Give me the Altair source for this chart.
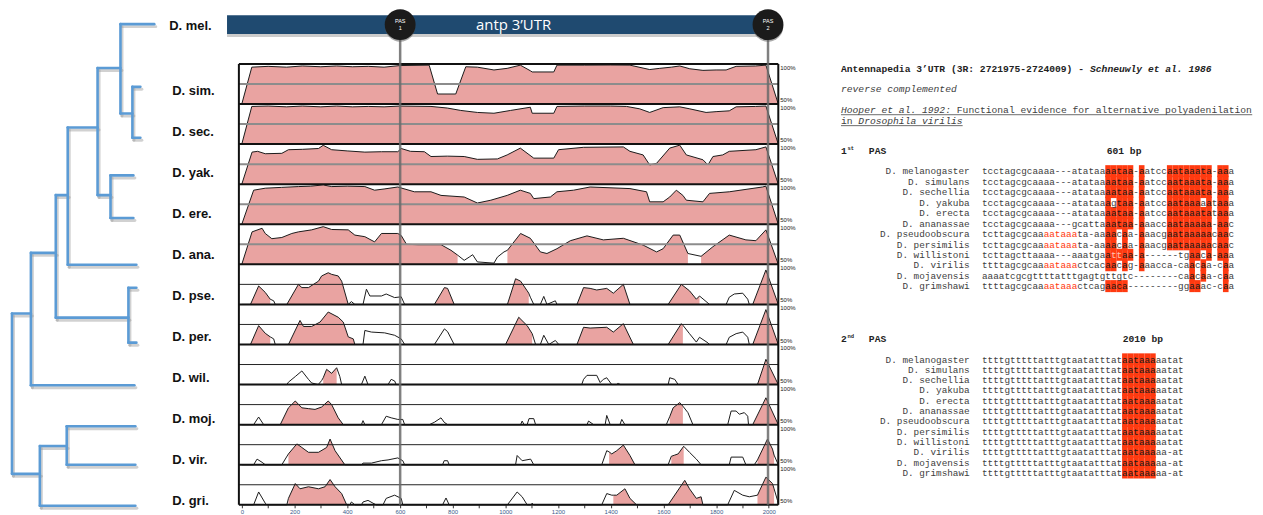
import altair as alt
import pandas as pd

# ====================== DATA ======================
REF_SPECIES = "D. mel."
SPECIES = ["D. sim.", "D. sec.", "D. yak.", "D. ere.", "D. ana.", "D. pse.",
           "D. per.", "D. wil.", "D. moj.", "D. vir.", "D. gri."]

# conservation profiles vs D. melanogaster: (position in bp, % identity); <50% sits on the baseline
CONS_SIM = [(0,50),(38,96),(100,97),(170,96),(230,97.5),(300,96.5),(360,97.5),(420,96.5),(480,97),(540,96),(600,98),(711,98.5),(743,62.5),(812,62.5),(850,96.5),(894,96),(957,92.5),(1007,94.5),(1057,98.5),(1095,91.5),(1102,90),(1184,90),(1196,98.5),(1300,98.5),(1400,98.7),(1473,98.5),(1548,93),(1586,94.5),(1630,96),(1662,97.5),(1700,94),(1750,92),(1800,92.5),(1838,92.5),(1876,97),(1950,97.5),(1989,98.5),(2036,50)]
CONS_SEC = [(0,50),(38,97),(100,97.5),(170,96.5),(230,97.5),(300,96.5),(360,97.5),(420,96.5),(480,97),(540,96.5),(600,97.5),(718,97),(780,95),(831,92),(894,89.5),(957,88.5),(1020,92),(1095,96),(1102,88.5),(1184,88.5),(1196,97),(1300,97.5),(1400,97.5),(1460,97),(1510,94),(1548,89.5),(1599,95.5),(1662,96.5),(1700,94),(1762,89.5),(1800,90.5),(1850,91.5),(1876,96.5),(1950,97),(1989,97.5),(2036,50)]
CONS_YAK = [(0,50),(39,90),(60,91),(89,88),(152,88.5),(177,93),(230,93.5),(291,94.5),(309,98.5),(341,93),(400,91.5),(467,90),(530,90.5),(592,90.5),(605,94.5),(640,91),(693,90.5),(718,84.5),(780,85),(844,84.5),(894,81),(970,81.5),(1007,86.5),(1057,95),(1108,82.5),(1184,82.5),(1202,93),(1297,96),(1448,96.5),(1473,91),(1523,86.5),(1548,74),(1574,76),(1624,95),(1662,98.7),(1687,86.5),(1750,80.5),(1769,74),(1788,84.5),(1825,86.5),(1850,91),(1951,93),(1989,96.5),(2036,50)]
CONS_ERE = [(0,50),(45,92.5),(89,95),(150,96),(215,97),(260,97.5),(309,99),(341,97),(400,97.5),(467,97),(504,92.5),(540,94),(592,96.5),(655,90.5),(718,90.5),(756,86),(844,84),(894,76.5),(945,80),(1007,86),(1057,92.5),(1095,88.5),(1108,82),(1171,84),(1196,90.5),(1259,92.5),(1322,96.5),(1473,94.5),(1536,90.5),(1548,78),(1599,78),(1624,84),(1649,92.5),(1674,86),(1687,80),(1750,78),(1775,88.5),(1850,90.5),(1976,96.5),(1989,97.5),(2036,50)]
CONS_ANA = [(0,50),(39,90.5),(77,95),(89,88.5),(114,82),(152,83.5),(190,88.5),(215,90.5),(265,93),(309,97),(341,93.5),(404,93),(429,86.5),(467,84.5),(504,78),(530,88.5),(592,88.5),(605,86),(625,75),(668,74.5),(718,74.5),(756,74.5),(794,67.5),(819,61.5),(844,55),(863,59),(876,62),(894,53),(957,51.5),(970,59),(995,65.5),(1008,67.5),(1058,88.5),(1095,82.5),(1133,65.5),(1158,63.5),(1196,69.5),(1247,79.5),(1310,85.5),(1372,80.5),(1448,82.5),(1523,74),(1574,65.5),(1599,69.5),(1637,86.5),(1662,86.5),(1693,63.5),(1743,60),(1788,72),(1850,86.5),(1913,80.5),(1951,79.5),(1989,93),(2036,50)]
CONS_PSE = [(0,50),(33,50),(64,73),(89,65),(108,56.5),(121,54.5),(127,50),(171,50),(215,75),(228,71),(253,71),(291,79),(303,85.5),(328,89.5),(341,87.5),(366,85.5),(379,79),(404,50),(416,53.5),(429,50),(460,50),(473,69),(486,60.5),(530,60.5),(548,63),(580,58.5),(605,59.5),(618,50),(731,50),(769,71),(781,70),(806,50),(1008,50),(1039,82),(1058,79),(1083,67),(1089,64),(1095,59),(1108,50),(1133,50),(1146,60),(1158,50),(1190,54.5),(1196,50),(1272,50),(1297,71),(1322,70),(1347,68),(1385,70),(1410,64),(1448,75),(1473,50),(1618,50),(1668,75),(1699,67),(1725,56.5),(1737,60.5),(1775,50),(1838,50),(1850,59),(1869,63),(1901,64),(1920,56.5),(1926,50),(1939,50),(1989,93),(2036,50)]
CONS_PER = [(0,50),(33,50),(64,73.5),(89,64),(108,59.5),(121,57),(127,50),(177,50),(221,80),(234,72.5),(265,72.5),(297,78),(328,90.5),(366,84),(385,78),(404,59.5),(423,57),(429,50),(460,50),(467,67.5),(492,65.5),(542,64.5),(580,61.5),(605,57),(618,50),(731,50),(769,69.5),(781,66),(806,50),(1001,50),(1051,84),(1083,73.5),(1102,63.5),(1115,50),(1133,50),(1146,61.5),(1165,50),(1190,55),(1203,50),(1272,50),(1297,71.5),(1322,70.5),(1385,71.5),(1410,65.5),(1448,76),(1486,50),(1618,50),(1668,76),(1674,74),(1699,63.5),(1725,53),(1737,59),(1769,52),(1775,50),(1838,50),(1850,59),(1876,63.5),(1901,65.5),(1920,59),(1926,50),(1939,50),(1989,93.5),(2036,50)]
CONS_WIL = [(0,50),(171,50),(177,53),(203,60),(228,67),(253,56.5),(265,52),(290,50),(303,55),(309,58.5),(322,69),(341,64),(360,71),(372,60),(379,50),(454,50),(467,60.5),(479,50),(555,50),(567,56.5),(580,54.5),(586,50),(1290,50),(1297,56.5),(1310,61.5),(1347,61.5),(1360,52.5),(1372,56.5),(1385,58.5),(1404,50),(1423,50),(1429,52),(1435,50),(1618,50),(1624,58.5),(1643,56.5),(1656,50),(1957,50),(1989,81.5),(2036,50)]
CONS_MOJ = [(0,50),(45,50),(64,59.5),(83,50),(146,50),(177,71),(203,79.5),(228,71),(253,70),(278,69),(303,72),(328,79.5),(341,75),(366,58.5),(385,50),(454,50),(460,55),(467,50),(530,50),(548,60.5),(567,58.5),(592,56.5),(611,56.5),(618,50),(712,50),(731,53),(756,58.5),(768,53),(781,50),(1058,50),(1064,54.5),(1071,50),(1083,50),(1090,57.5),(1108,57.5),(1115,50),(1310,50),(1316,54.5),(1335,50),(1379,50),(1385,61.5),(1398,50),(1435,50),(1442,56.5),(1454,50),(1611,50),(1624,60),(1637,71),(1662,77.5),(1674,73),(1693,65),(1712,50),(1844,50),(1857,67),(1876,67),(1888,63),(1907,65),(1920,60.5),(1923,50),(1939,50),(1989,83.5),(2036,50)]
CONS_VIR = [(0,50),(45,50),(58,57),(77,53),(89,50),(152,50),(177,63.5),(209,76),(228,71.5),(253,65.5),(291,65.5),(322,71.5),(335,82),(354,67.5),(391,50),(454,50),(460,52),(492,52),(530,55),(555,56),(592,58.5),(611,55),(618,50),(762,50),(768,55),(781,55),(787,50),(1039,50),(1045,61.5),(1064,55),(1096,57),(1108,50),(1366,50),(1385,67.5),(1394,66),(1404,63.5),(1423,67.5),(1448,74.5),(1473,61.5),(1492,50),(1618,50),(1630,60.5),(1643,62),(1656,63.5),(1677,73),(1699,65.5),(1725,57),(1743,50),(1850,50),(1857,59.5),(1901,59.5),(1913,50),(1945,50),(1957,56),(1995,82),(2014,69.5),(2020,62),(2036,50)]
CONS_GRI = [(0,50),(45,50),(64,66),(89,52),(95,50),(171,50),(177,58),(203,76.5),(221,70),(253,72.5),(291,70),(316,72.5),(335,81.5),(354,72.5),(379,64),(398,50),(410,50),(416,53.5),(429,50),(454,50),(460,53.5),(479,55.5),(498,52),(510,50),(536,50),(548,58),(580,62),(605,58),(611,50),(762,50),(775,58.5),(787,50),(1008,50),(1045,66),(1064,60),(1083,50),(1096,50),(1102,52),(1108,50),(1366,50),(1385,64),(1404,62),(1410,62),(1423,62),(1454,70),(1473,58),(1498,50),(1618,50),(1681,80.5),(1699,70),(1725,58),(1743,60),(1750,50),(1844,50),(1869,68),(1901,62),(1926,60),(1957,62),(1989,84.5),(2014,76.5),(2020,70),(2033,55.5),(2036,50)]

# conserved (shaded) regions, bp intervals
CONSERVED = [
    [(0, 2036)], [(0, 2036)], [(0, 2036)], [(0, 2036)],
    [(0, 819), (1008, 1693), (1743, 2036)],
    [(33, 108), (171, 404), (731, 806), (1008, 1089), (1272, 1473), (1618, 1737), (1939, 2036)],
    [(33, 108), (177, 429), (1001, 1102), (1272, 1486), (1618, 1674), (1939, 2036)],
    [(309, 360), (1957, 2036)],
    [(146, 385), (1624, 1674), (1939, 2036)],
    [(177, 391), (1394, 1492), (1630, 1677), (1957, 2020)],
    [(177, 398), (1410, 1498), (1618, 1750), (1957, 2020)],
]
PROFILES = [CONS_SIM, CONS_SEC, CONS_YAK, CONS_ERE, CONS_ANA, CONS_PSE,
            CONS_PER, CONS_WIL, CONS_MOJ, CONS_VIR, CONS_GRI]

PAS_BP = [601, 1997]
PAS_NUM = ["1", "2"]
UTR_SPAN = [-56, 2036]
AXIS_TICKS = [0, 100, 200, 300, 400, 500, 600, 700, 800, 900, 1000, 1100, 1200,
              1300, 1400, 1500, 1600, 1700, 1800, 1900, 2000]

# phylogeny: leaves (top to bottom) with branch depth and row position
TREE_LEAVES = ["D. mel.", "D. sim.", "D. sec.", "D. yak.", "D. ere.", "D. ana.",
               "D. pse.", "D. per.", "D. wil.", "D. moj.", "D. vir.", "D. gri."]
TREE_LEAF_DEPTH = [143, 129, 129, 122, 122, 125, 125, 125, 123, 124, 124, 124]
TREE_LEAF_ROW = [0, 1.53, 2.77, 3.69, 4.73, 5.87, 6.43, 7.77, 8.81, 9.81, 10.75, 11.75]
# internal nodes: (name, depth, row, children)
TREE_NODES = [
    ("simsec", 121, 2.18, ["D. sim.", "D. sec."]),
    ("melsub", 109, 1.07, ["D. mel.", "simsec"]),
    ("yakere", 99, 4.17, ["D. yak.", "D. ere."]),
    ("melsubgrp", 86, 2.52, ["melsub", "yakere"]),
    ("melgrp", 56, 4.17, ["melsubgrp", "D. ana."]),
    ("obscura", 117, 7.16, ["D. pse.", "D. per."]),
    ("sophA", 44, 5.58, ["melgrp", "obscura"]),
    ("sophophora", 19, 7.06, ["sophA", "D. wil."]),
    ("virmoj", 55, 10.29, ["D. moj.", "D. vir."]),
    ("drosophila", 28, 10.97, ["virmoj", "D. gri."]),
    ("root", 0, 9.0, ["sophophora", "drosophila"]),
]

# alignment text
HEADER_TITLE = "Antennapedia 3’UTR (3R: 2721975-2724009) -"
HEADER_CITE = "Schneuwly et al. 1986"
HEADER_NOTE = "reverse complemented"
HEADER_REF_A = "Hooper et al. 1992:"
HEADER_REF_B = "Functional evidence for alternative polyadenilation"
HEADER_REF_C = "in"
HEADER_REF_D = "Drosophila virilis"
PAS1_POS = "601 bp"
PAS2_POS = "2010 bp"

ALN_NAMES = ["D. melanogaster", "D. simulans", "D. sechellia", "D. yakuba", "D. erecta",
             "D. ananassae", "D. pseudoobscura", "D. persimilis", "D. willistoni",
             "D. virilis", "D. mojavensis", "D. grimshawi"]
PAS1_SEQS = [
    "tcctagcgcaaaa---atataaaataa-aatccaataaata-aaa",
    "tcctagcgcaaaa---atataaaataa-aatccaataaata-aaa",
    "tcctagcgcaaaa---atataaaataa-aatccaataaata-aaa",
    "tcctagcgcaaaa---atataaagtaa-aatccaataaaaataaa",
    "tcctagcgcaaaa---atataaaataa-aatccaataaatataaa",
    "tcctagcgcaaaa---gcattaaataa-aaaccaataaaaa-aac",
    "tcttagcgcaaaataaata-aaaacaa-aaacgaataaaaacaac",
    "tcttagcgcaaaataaata-aaaacaa-aaacgaataaaaacaac",
    "tcttagcttaaaa---aaatgaattaa-a------tgaaca-aaa",
    "ttttagcgcaaaataaactcacaacag-aaacca-caacaa-caa",
    "aaaatcgcgttttatttgagtgttgtc--------caacaa-caa",
    "ttttagcgcaaaataaactcagaaca---------ggaaac-caa",
]
_FULL = [22, 23, 24, 25, 26, 28, 33, 34, 35, 36, 37, 38, 39, 40, 42, 43]
PAS1_HL = [
    _FULL, _FULL, _FULL,
    [22, 24, 25, 26, 28, 33, 34, 35, 36, 37, 38, 40, 42, 43],
    _FULL, _FULL,
    [22, 23, 25, 28, 33, 34, 35, 36, 37, 38, 39, 40, 42, 43],
    [22, 23, 25, 28, 33, 34, 35, 36, 37, 38, 39, 40, 42, 43],
    [22, 23, 24, 25, 26, 28, 37, 38, 40, 42, 43],
    [22, 23, 25, 28, 37, 39, 43],
    [37, 39, 43],
    [22, 23, 24, 25, 37, 38, 43],
]
PAS1_RED_TEXT = {6: [11, 12, 13, 14, 15, 16], 7: [11, 12, 13, 14, 15, 16],
                 9: [11, 12, 13, 14, 15, 16], 11: [11, 12, 13, 14, 15, 16]}
PAS1_PALE_TEXT = {8: [23, 24]}
PAS2_SEQS = ["ttttgtttttatttgtaatatttataataaaaatat"] * 9 + ["ttttgtttttatttgtaatatttataataaaaa-at"] * 3
PAS2_HL = [[25, 26, 27, 28, 29, 30]] * 12

# ====================== LAYOUT / STYLE ======================
W, H = 1247, 498
BP_DOMAIN = [-11, 2036]
X_BP = [232, 774]
TRACK_TOP, TRACK_H = 55, 40.27
PINK = "#E9A3A1"
RED = "#FF3A10"
TREE_BLUE = "#5B9BD5"
BAR_BLUE = "#1F4A70"
MONO = "Liberation Mono"
SANS = "Liberation Sans"
TXT = "#404040"
CHAR_W = 5.63
SEQ_X0 = 978.7
HDR_X = 837
HDR_CW = 5.82


def xs():
    return alt.Scale(domain=BP_DOMAIN, range=X_BP, nice=False, zero=False)


layers = []

# ---------------- tree ----------------
pos = {n: (d, r) for n, d, r in zip(TREE_LEAVES, TREE_LEAF_DEPTH, TREE_LEAF_ROW)}
for name, d, r, ch in TREE_NODES:
    pos[name] = (d, r)
segs = []
for name, d, r, ch in TREE_NODES:
    rows = [pos[c][1] for c in ch]
    segs.append(dict(d0=d, d1=d, r0=min(rows), r1=max(rows)))
    for c in ch:
        segs.append(dict(d0=d, d1=pos[c][0], r0=pos[c][1], r1=pos[c][1]))
seg_df = pd.DataFrame(segs)


def tree_layer(xr, yr, color, width, opacity):
    return alt.Chart(seg_df).mark_rule(color=color, strokeWidth=width, opacity=opacity,
                                       strokeCap="round").encode(
        x=alt.X("d0:Q", scale=alt.Scale(domain=[0, 143], range=xr, nice=False, zero=False), axis=None),
        x2="d1:Q",
        y=alt.Y("r0:Q", scale=alt.Scale(domain=[0, 11.75], range=yr, nice=False, zero=False), axis=None),
        y2="r1:Q",
    )


layers.append(tree_layer([5.5, 148.5], [17.5, 501.5], "#9a9a9a", 3, 0.45))
layers.append(tree_layer([4, 147], [15, 499], TREE_BLUE, 2.6, 1))

# ---------------- species labels ----------------
lab_df = pd.DataFrame({"sp": SPECIES, "k": list(range(1, 12))})
layers.append(alt.Chart(lab_df).mark_text(align="left", baseline="middle", font=SANS,
                                          fontWeight="bold", fontSize=13, color="#111").encode(
    x=alt.value(165),
    y=alt.Y("k:Q", scale=alt.Scale(domain=[1, 11], range=[82, 494], nice=False, zero=False), axis=None),
    text="sp:N"))
layers.append(alt.Chart(pd.DataFrame({"sp": [REF_SPECIES]})).mark_text(
    align="left", baseline="middle", font=SANS, fontWeight="bold", fontSize=13, color="#111").encode(
    x=alt.value(162), y=alt.value(17), text="sp:N"))

# ---------------- conservation tracks ----------------
for k, prof in enumerate(PROFILES):
    top = TRACK_TOP + k * TRACK_H
    bot = top + TRACK_H
    ysc = alt.Scale(domain=[50, 100], range=[bot, top], nice=False, zero=False)
    line_df = pd.DataFrame(prof, columns=["bp", "pct"])
    area_rows = []
    for j, (a, b) in enumerate(CONSERVED[k]):
        for bp, pct in prof:
            if a <= bp <= b:
                area_rows.append(dict(bp=bp, pct=pct, region=j))
    area_df = pd.DataFrame(area_rows)
    area = alt.Chart(area_df).mark_area(color=PINK, opacity=1).encode(
        x=alt.X("bp:Q", scale=xs(), axis=None),
        y=alt.Y("pct:Q", scale=ysc, axis=None),
        y2=alt.datum(50),
        detail="region:N")
    line = alt.Chart(line_df).mark_line(color="#1a1a1a", strokeWidth=1).encode(
        x=alt.X("bp:Q", scale=xs(), axis=None),
        y=alt.Y("pct:Q", scale=ysc, axis=None))
    ref_df = pd.DataFrame({"x0": [BP_DOMAIN[0]], "x1": [BP_DOMAIN[1]], "mid": [75], "base": [50]})
    mid_col, mid_w = ("#8c8c8c", 2) if k < 5 else ("#222222", 1)
    mid = alt.Chart(ref_df).mark_rule(color=mid_col, strokeWidth=mid_w).encode(
        x=alt.X("x0:Q", scale=xs(), axis=None), x2="x1:Q",
        y=alt.Y("mid:Q", scale=ysc, axis=None))
    base = alt.Chart(ref_df).mark_rule(color="#111", strokeWidth=2).encode(
        x=alt.X("x0:Q", scale=xs(), axis=None), x2="x1:Q",
        y=alt.Y("base:Q", scale=ysc, axis=None))
    t100 = alt.Chart(pd.DataFrame({"p": [100], "t": ["100%"]})).mark_text(
        align="left", baseline="top", font=SANS, fontSize=6, color="#222", dy=1).encode(
        x=alt.value(776), y=alt.Y("p:Q", scale=ysc, axis=None), text="t:N")
    t50 = alt.Chart(pd.DataFrame({"p": [50], "t": ["50%"]})).mark_text(
        align="left", baseline="bottom", font=SANS, fontSize=6, color="#222", dy=-1).encode(
        x=alt.value(776), y=alt.Y("p:Q", scale=ysc, axis=None), text="t:N")
    layers.append(alt.layer(area, line, mid, base, t100, t50))

# frame
frame_df = pd.DataFrame({"x0": [BP_DOMAIN[0]], "x1": [BP_DOMAIN[1]]})
layers.append(alt.Chart(frame_df).mark_rule(color="#111", strokeWidth=2).encode(
    x=alt.X("x0:Q", scale=xs(), axis=None), x2="x1:Q", y=alt.value(TRACK_TOP)))
layers.append(alt.Chart(frame_df).mark_rule(color="#111", strokeWidth=2).encode(
    x=alt.X("x0:Q", scale=xs(), axis=None), y=alt.value(TRACK_TOP), y2=alt.value(H)))
layers.append(alt.Chart(frame_df).mark_rule(color="#111", strokeWidth=2).encode(
    x=alt.X("x1:Q", scale=xs(), axis=None), y=alt.value(TRACK_TOP), y2=alt.value(H)))

# bp axis
layers.append(alt.Chart(pd.DataFrame({"bp": AXIS_TICKS})).mark_rule(opacity=0).encode(
    x=alt.X("bp:Q", scale=xs(), axis=alt.Axis(
        values=AXIS_TICKS, format="d", labelExpr="datum.value % 200 == 0 ? datum.label : ''",
        labelFontSize=6, labelColor="#3c5a8a", labelFont=SANS, tickSize=3, tickColor="#333",
        domain=False, grid=False, labelPadding=1, title=None))))

# ---------------- UTR bar, PAS markers ----------------
pas_df = pd.DataFrame({"bp": PAS_BP, "n": PAS_NUM})
layers.append(alt.Chart(pas_df).mark_rule(color="#6a6a6a", strokeWidth=2.5, opacity=0.85).encode(
    x=alt.X("bp:Q", scale=xs(), axis=None), y=alt.value(30), y2=alt.value(H)))
bar_df = pd.DataFrame({"a": [UTR_SPAN[0]], "b": [UTR_SPAN[1]]})
layers.append(alt.Chart(bar_df).mark_rect(color="#555", opacity=0.3).encode(
    x=alt.X("a:Q", scale=xs(), axis=None), x2="b:Q", y=alt.value(9), y2=alt.value(28)))
layers.append(alt.Chart(bar_df).mark_rect(color=BAR_BLUE).encode(
    x=alt.X("a:Q", scale=xs(), axis=None), x2="b:Q", y=alt.value(6), y2=alt.value(25)))
layers.append(alt.Chart(pd.DataFrame({"t": ["antp 3’UTR"]})).mark_text(
    font="Open Sans", fontSize=15, color="white", baseline="middle", align="center").encode(
    x=alt.value(508), y=alt.value(15.5), text="t:N"))
layers.append(alt.Chart(pas_df).mark_circle(size=930, color="#555", opacity=0.5).encode(
    x=alt.X("bp:Q", scale=xs(), axis=None), y=alt.value(17.5)))
layers.append(alt.Chart(pas_df).mark_circle(size=960, color="#1b1b1b", opacity=1).encode(
    x=alt.X("bp:Q", scale=xs(), axis=None), y=alt.value(15.5)))
layers.append(alt.Chart(pas_df).mark_text(fontSize=5.5, color="white", font=SANS).encode(
    x=alt.X("bp:Q", scale=xs(), axis=None), y=alt.value(12), text=alt.value("PAS")))
layers.append(alt.Chart(pas_df).mark_text(fontSize=5.5, color="white", font=SANS).encode(
    x=alt.X("bp:Q", scale=xs(), axis=None), y=alt.value(19), text="n:N"))

# ---------------- header texts ----------------
def txt(s, x, y, size=9.7, weight="normal", style="normal", color=TXT):
    return alt.Chart(pd.DataFrame({"t": [s]})).mark_text(
        align="left", baseline="middle", font=MONO, fontSize=size, fontWeight=weight,
        fontStyle=style, color=color).encode(x=alt.value(x), y=alt.value(y), text="t:N")


layers.append(txt(HEADER_TITLE, HDR_X, 60.5, weight="bold", color="#222"))
layers.append(txt(HEADER_CITE, HDR_X + 43 * HDR_CW, 60.5, weight="bold", style="italic", color="#222"))
layers.append(txt(HEADER_NOTE, HDR_X, 80.5, style="italic"))
layers.append(txt(HEADER_REF_A, HDR_X, 101.5, style="italic"))
layers.append(txt(HEADER_REF_B, HDR_X + 20 * HDR_CW, 101.5))
layers.append(txt(HEADER_REF_C, HDR_X, 112.5))
layers.append(txt(HEADER_REF_D, HDR_X + 3 * HDR_CW, 112.5, style="italic"))
ul_df = pd.DataFrame({"a": [0]})
layers.append(alt.Chart(ul_df).mark_rule(color="#444", strokeWidth=0.8).encode(
    x=alt.value(HDR_X), x2=alt.value(HDR_X + 71 * HDR_CW), y=alt.value(106)))
layers.append(alt.Chart(ul_df).mark_rule(color="#444", strokeWidth=0.8).encode(
    x=alt.value(HDR_X), x2=alt.value(HDR_X + 21 * HDR_CW), y=alt.value(117)))
for num, sup, y, label, lx in [("1", "st", 142, PAS1_POS, 1104), ("2", "nd", 331, PAS2_POS, 1120)]:
    layers.append(txt(num, HDR_X, y, weight="bold", color="#222"))
    layers.append(txt(sup, HDR_X + 6.5, y - 3, size=5.5, weight="bold", color="#222"))
    layers.append(txt("PAS", HDR_X + 28, y, weight="bold", color="#222"))
    layers.append(txt(label, lx, y, weight="bold", color="#222"))

# ---------------- alignments ----------------
def alignment(seqs, hl, red_text, pale_text, y_range):
    cells, marks = [], []
    for r, s in enumerate(seqs):
        for c, ch in enumerate(s):
            h = c in hl[r]
            col = TXT
            if c in red_text.get(r, []):
                col = RED
            if c in pale_text.get(r, []):
                col = "#ffc2b4"
            elif h:
                col = "#1a1a1a"
            cells.append(dict(row=r, cm=c + 0.5, ch=ch, tc=col))
            if h:
                marks.append(dict(c0=c, c1=c + 1, r0=r - 0.6, r1=r + 0.55))
    xsc = alt.Scale(domain=[0, 45], range=[SEQ_X0, SEQ_X0 + 45 * CHAR_W], nice=False, zero=False)
    ysc = alt.Scale(domain=[0, 11], range=y_range, nice=False, zero=False)
    rect = alt.Chart(pd.DataFrame(marks)).mark_rect(color=RED).encode(
        x=alt.X("c0:Q", scale=xsc, axis=None), x2="c1:Q",
        y=alt.Y("r0:Q", scale=ysc, axis=None), y2="r1:Q")
    chars = alt.Chart(pd.DataFrame(cells)).mark_text(
        align="center", baseline="middle", font=MONO, fontSize=9.4).encode(
        x=alt.X("cm:Q", scale=xsc, axis=None),
        y=alt.Y("row:Q", scale=ysc, axis=None),
        text="ch:N", color=alt.Color("tc:N", scale=None))
    names = alt.Chart(pd.DataFrame({"name": ALN_NAMES, "row": list(range(12))})).mark_text(
        align="right", baseline="middle", font=MONO, fontSize=9.4, color=TXT).encode(
        x=alt.value(SEQ_X0 - 2.2 * CHAR_W),
        y=alt.Y("row:Q", scale=ysc, axis=None), text="name:N")
    return alt.layer(rect, chars, names)


layers.append(alignment(PAS1_SEQS, PAS1_HL, PAS1_RED_TEXT, PAS1_PALE_TEXT, [163, 163 + 11 * 10.5]))
layers.append(alignment(PAS2_SEQS, PAS2_HL, {}, {}, [352, 352 + 11 * 10.35]))

chart = alt.layer(*layers).resolve_scale(
    x="independent", y="independent", color="independent"
).properties(
    width=W, height=H,
    autosize=alt.AutoSizeParams(type="none"),
    padding={"left": 0, "top": 0, "right": 6, "bottom": 9},
).configure_view(strokeWidth=0)

chart.save("out.html", embed_options={"renderer": "svg", "actions": False})
